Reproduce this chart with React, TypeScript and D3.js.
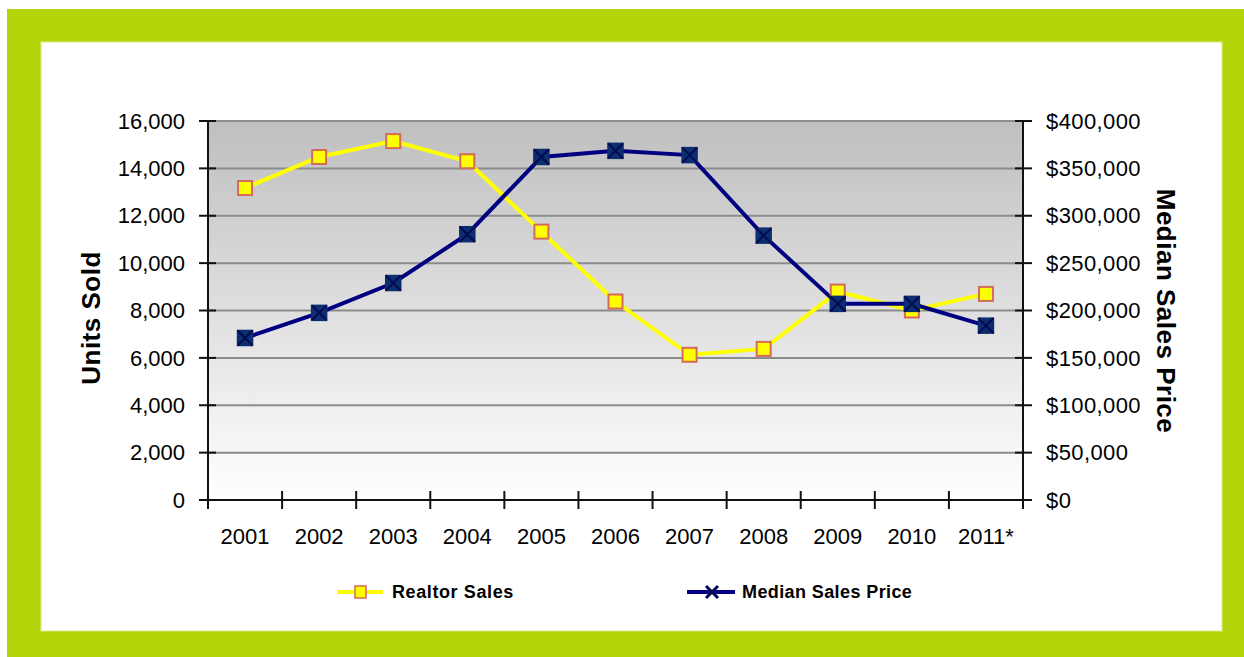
import React from "react";
import * as d3 from "d3";

const years = ["2001", "2002", "2003", "2004", "2005", "2006", "2007", "2008", "2009", "2010", "2011*"];
const realtorSales = [13170, 14480, 15150, 14300, 11330, 8380, 6130, 6380, 8800, 8000, 8700];
const medianPrice = [171000, 197500, 229000, 280500, 362000, 368500, 364000, 279000, 207000, 207000, 184000];
const leftTicks = [0, 2000, 4000, 6000, 8000, 10000, 12000, 14000, 16000];
const rightTicks = [0, 50000, 100000, 150000, 200000, 250000, 300000, 350000, 400000];

const W = 1244;
const H = 657;
const plot = { left: 208, right: 1023, top: 121, bottom: 500 };
const font = "'Liberation Sans', Arial, sans-serif";

export default function App() {
  const x = d3.scaleBand<string>().domain(years).range([plot.left, plot.right]);
  const yL = d3.scaleLinear().domain([0, 16000]).range([plot.bottom, plot.top]);
  const yR = d3.scaleLinear().domain([0, 400000]).range([plot.bottom, plot.top]);
  const cx = (d: string) => (x(d) as number) + x.bandwidth() / 2;

  const salesLine = d3.line<number>().x((_, i) => cx(years[i])).y((v) => yL(v))(realtorSales) as string;
  const priceLine = d3.line<number>().x((_, i) => cx(years[i])).y((v) => yR(v))(medianPrice) as string;
  const fmtL = d3.format(",");
  const fmtR = (v: number) => "$" + d3.format(",")(v);

  const sq = 7;
  const yellowMarker = (px: number, py: number, k: string) => (
    <rect key={k} x={px - sq} y={py - sq} width={sq * 2} height={sq * 2} fill="#ffff00" stroke="#d46a5a" strokeWidth={2} />
  );
  const bq = 7.5;
  const blueMarker = (px: number, py: number, k: string) => (
    <g key={k}>
      <rect x={px - bq} y={py - bq} width={bq * 2} height={bq * 2} fill="#0d2e6e" stroke="#0d2e6e" strokeWidth={1.5} />
      <path d={`M${px - bq},${py - bq}L${px + bq},${py + bq}M${px + bq},${py - bq}L${px - bq},${py + bq}`} stroke="#000a55" strokeWidth={2} />
    </g>
  );

  return (
    <svg width={W} height={H} style={{ position: "absolute", left: 0, top: 0 }}>
      <defs>
        <linearGradient id="bg" x1="0" y1="0" x2="0" y2="1">
          <stop offset="0" stopColor="#bfbfbf" />
          <stop offset="1" stopColor="#ffffff" />
        </linearGradient>
      </defs>
      <rect x={0} y={0} width={W} height={H} fill="#ffffff" />
      <rect x={7} y={9} width={W - 7} height={H - 9} fill="#b5d40a" />
      <rect x={41} y={42} width={1181} height={589} fill="#ffffff" stroke="#dbe98a" strokeWidth={1} />

      <rect x={plot.left} y={plot.top} width={plot.right - plot.left} height={plot.bottom - plot.top} fill="url(#bg)" />

      {leftTicks.map((t) => (
        <line key={"g" + t} x1={plot.left} x2={plot.right} y1={yL(t)} y2={yL(t)} stroke="#8c8c8c" strokeWidth={2} />
      ))}

      {/* axes */}
      <line x1={plot.left} x2={plot.left} y1={plot.top} y2={plot.bottom + 9} stroke="#111" strokeWidth={2} />
      <line x1={plot.right} x2={plot.right} y1={plot.top} y2={plot.bottom + 9} stroke="#111" strokeWidth={2} />
      <line x1={plot.left - 9} x2={plot.right + 9} y1={plot.bottom} y2={plot.bottom} stroke="#111" strokeWidth={2} />
      {leftTicks.map((t) => (
        <g key={"lt" + t}>
          <line x1={plot.left - 9} x2={plot.left + 8} y1={yL(t)} y2={yL(t)} stroke="#111" strokeWidth={2} />
          <text x={185} y={yL(t)} dy="0.35em" textAnchor="end" fontFamily={font} fontSize={22} fill="#000">
            {fmtL(t)}
          </text>
        </g>
      ))}
      {rightTicks.map((t) => (
        <g key={"rt" + t}>
          <line x1={plot.right - 8} x2={plot.right + 9} y1={yR(t)} y2={yR(t)} stroke="#111" strokeWidth={2} />
          <text x={1046} y={yR(t)} dy="0.35em" textAnchor="start" fontFamily={font} fontSize={22} letterSpacing={0.4} fill="#000">
            {fmtR(t)}
          </text>
        </g>
      ))}
      {years.map((y, i) => (
        <g key={"xt" + y}>
          {i > 0 && <line x1={x(y)} x2={x(y)} y1={plot.bottom - 9} y2={plot.bottom + 9} stroke="#111" strokeWidth={2} />}
          <text x={cx(y)} y={544} textAnchor="middle" fontFamily={font} fontSize={22} fill="#000">
            {y}
          </text>
        </g>
      ))}

      <text transform={`translate(100,318) rotate(-90)`} textAnchor="middle" fontFamily={font} fontWeight="bold" fontSize={26} letterSpacing={0.5} fill="#000">
        Units Sold
      </text>
      <text transform={`translate(1157,311) rotate(90)`} textAnchor="middle" fontFamily={font} fontWeight="bold" fontSize={26} letterSpacing={0.5} fill="#000">
        Median Sales Price
      </text>

      <path d={salesLine} fill="none" stroke="#ffff00" strokeWidth={4} />
      <path d={priceLine} fill="none" stroke="#000080" strokeWidth={4} />
      {realtorSales.map((v, i) => yellowMarker(cx(years[i]), yL(v), "ym" + i))}
      {medianPrice.map((v, i) => blueMarker(cx(years[i]), yR(v), "bm" + i))}

      {/* legend */}
      <line x1={337} x2={383} y1={592} y2={592} stroke="#ffff00" strokeWidth={4} />
      <rect x={355} y={586} width={11} height={12} fill="#ffff00" stroke="#d46a5a" strokeWidth={1.5} />
      <text x={392} y={592} dy="0.35em" fontFamily={font} fontWeight="bold" fontSize={18} letterSpacing={0.6} fill="#000">
        Realtor Sales
      </text>
      <line x1={687} x2={735} y1={592} y2={592} stroke="#000080" strokeWidth={4} />
      <path d="M706,586L718,598M718,586L706,598" stroke="#000a55" strokeWidth={3} />
      <text x={742} y={592} dy="0.35em" fontFamily={font} fontWeight="bold" fontSize={18} letterSpacing={0.4} fill="#000">
        Median Sales Price
      </text>
    </svg>
  );
}
